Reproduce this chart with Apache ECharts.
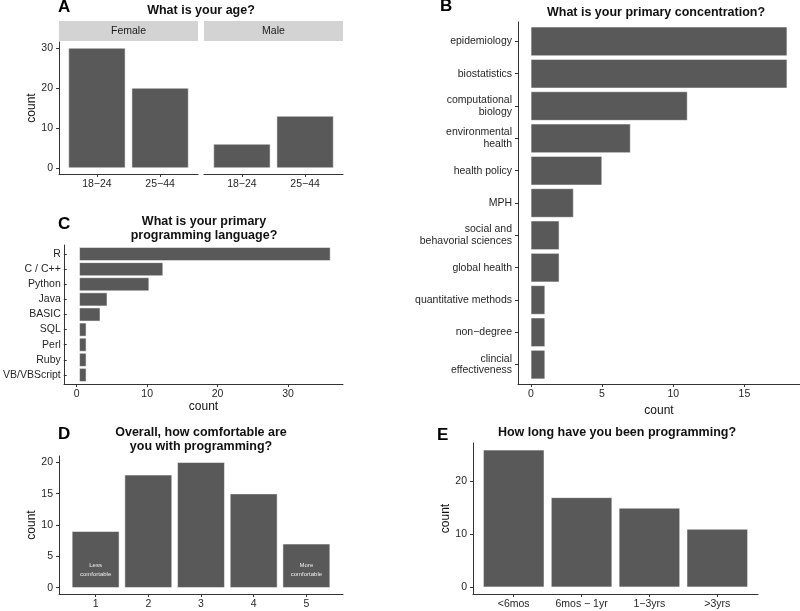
<!DOCTYPE html>
<html><head><meta charset="utf-8">
<script src="https://cdn.jsdelivr.net/npm/echarts@6/dist/echarts.min.js"></script>
<style>html,body{margin:0;padding:0;background:#fff}#c{width:800px;height:611px}</style>
</head><body><div id="c"></div>
<script>
// ---------- DATA ----------
const ageCategories = ['18−24', '25−44'];
const ageStrips = ['Female', 'Male'];
const ageFemale = [30, 20];
const ageMale = [6, 13];
const ageTicks = [0, 10, 20, 30];

const concCategories = ['epidemiology', 'biostatistics', 'computational\nbiology', 'environmental\nhealth',
  'health policy', 'MPH', 'social and\nbehavorial sciences', 'global health', 'quantitative methods',
  'non−degree', 'clincial\neffectiveness'];
const concValues = [18, 18, 11, 7, 5, 3, 2, 2, 1, 1, 1];
const concTicks = [0, 5, 10, 15];

const langCategories = ['R', 'C / C++', 'Python', 'Java', 'BASIC', 'SQL', 'Perl', 'Ruby', 'VB/VBScript'];
const langValues = [36, 12, 10, 4, 3, 1, 1, 1, 1];
const langTicks = [0, 10, 20, 30];

const comfortLevels = [1, 2, 3, 4, 5];
const comfortValues = [9, 18, 20, 15, 7];
const comfortNotes = ['Less\ncomfortable', '', '', '', 'More\ncomfortable'];
const comfortTicks = [0, 5, 10, 15, 20];

const durationCategories = ['<6mos', '6mos − 1yr', '1−3yrs', '>3yrs'];
const durationValues = [26, 17, 15, 11];
const durationTicks = [0, 10, 20];

// ---------- STYLE ----------
const FONT = '"Liberation Sans", Arial, Helvetica, sans-serif';
const INK = '#262626';
const LINE = '#333333';
const BAR = '#595959';
const FS = 10.5;

const grid = [], xAxis = [], yAxis = [], series = [], title = [], graphic = [];

const nameStyle = { color: '#111', fontSize: 12, fontFamily: FONT };
const lineStyle = { color: LINE, width: 1 };

function vertical(p) {
  const gi = grid.length;
  grid.push({ left: p.left, top: p.top, width: p.width, height: p.height });
  xAxis.push({
    gridIndex: gi, type: 'value', min: p.xMin, max: p.xMax, splitLine: { show: false },
    axisLine: { show: true, onZero: false, lineStyle },
    axisTick: { show: true, customValues: p.xTicks, length: 3, lineStyle },
    axisLabel: { show: true, customValues: p.xTicks, formatter: p.xLabel, color: INK, fontSize: FS, fontFamily: FONT, margin: 5 }
  });
  const showY = p.showY !== false;
  yAxis.push({
    gridIndex: gi, type: 'value', min: p.yMin, max: p.yMax, splitLine: { show: false },
    name: p.yName || '', nameLocation: 'middle', nameGap: 20, nameTextStyle: nameStyle,
    axisLine: { show: showY, onZero: false, lineStyle },
    axisTick: { show: showY, customValues: p.yTicks, length: 3, lineStyle },
    axisLabel: { show: showY, customValues: p.yTicks, color: INK, fontSize: FS, fontFamily: FONT, margin: 6 }
  });
  const bw = 0.9 * p.width / (p.xMax - p.xMin);
  series.push({
    type: 'bar', xAxisIndex: gi, yAxisIndex: gi, data: p.data, barWidth: bw,
    itemStyle: { color: BAR, borderColor: '#ffffff', borderWidth: 0.5 }, animation: false, silent: true
  });
}

function horizontal(p) {
  const gf = grid.length;
  grid.push({ left: p.left, top: p.top, width: p.width, height: p.height });
  xAxis.push({
    gridIndex: gf, type: 'value', min: p.xMin, max: p.xMax, splitLine: { show: false },
    name: 'count', nameLocation: 'middle', nameGap: 17, nameTextStyle: nameStyle,
    axisLine: { show: true, onZero: false, lineStyle },
    axisTick: { show: true, customValues: p.xTicks, length: 3, lineStyle },
    axisLabel: { show: true, customValues: p.xTicks, color: INK, fontSize: FS, fontFamily: FONT, margin: 5 }
  });
  yAxis.push({
    gridIndex: gf, type: 'value', min: 0, max: 1, splitLine: { show: false },
    axisLine: { show: true, onZero: false, lineStyle }, axisTick: { show: false }, axisLabel: { show: false }
  });
  const n = p.cats.length;
  const band = p.height / (n + 0.2);
  const gi = grid.length;
  grid.push({ left: p.left, top: p.top + 0.1 * band, width: p.width, height: n * band });
  xAxis.push({ gridIndex: gi, type: 'value', min: p.xMin, max: p.xMax, show: false });
  yAxis.push({
    gridIndex: gi, type: 'category', data: p.cats, inverse: true,
    axisLine: { show: false, onZero: false },
    axisTick: { show: true, alignWithLabel: true, length: 3, lineStyle },
    axisLabel: { interval: 0, color: INK, fontSize: FS, fontFamily: FONT, lineHeight: 11.5, margin: 6 }
  });
  series.push({
    type: 'bar', xAxisIndex: gi, yAxisIndex: gi, data: p.values, barWidth: '90%',
    itemStyle: { color: BAR, borderColor: '#ffffff', borderWidth: 0.5 }, animation: false, silent: true
  });
}

// Panel A (faceted)
const ageX = ageCategories.map((c, i) => i + 1);
const ageLabel = v => ageCategories[Math.round(v) - 1] || '';
vertical({ left: 59, top: 42, width: 139, height: 132, xMin: 0.4, xMax: 2.6, xTicks: ageX, xLabel: ageLabel,
  yMin: -1.5, yMax: 31.5, yTicks: ageTicks, yName: 'count',
  data: ageFemale.map((v, i) => [ageX[i], v]) });
vertical({ left: 204, top: 42, width: 139, height: 132, xMin: 0.4, xMax: 2.6, xTicks: ageX, xLabel: ageLabel,
  yMin: -1.5, yMax: 31.5, yTicks: ageTicks, showY: false,
  data: ageMale.map((v, i) => [ageX[i], v]) });

// Panel B
horizontal({ left: 518, top: 22, width: 282, height: 362, xMin: -0.9, xMax: 18.9, xTicks: concTicks,
  cats: concCategories, values: concValues });

// Panel C
horizontal({ left: 64, top: 245, width: 279, height: 139, xMin: -1.8, xMax: 37.8, xTicks: langTicks,
  cats: langCategories, values: langValues });

// Panel D
vertical({ left: 59, top: 456, width: 284, height: 138, xMin: 0.305, xMax: 5.695, xTicks: comfortLevels,
  xLabel: v => String(Math.round(v)), yMin: -1, yMax: 21, yTicks: comfortTicks, yName: 'count',
  data: comfortValues.map((v, i) => ({
    value: [comfortLevels[i], v],
    label: comfortNotes[i] ? { show: true, position: 'insideBottom', distance: 9, formatter: comfortNotes[i],
      fontSize: 6, lineHeight: 9, color: '#eeeeee', fontFamily: FONT } : { show: false }
  })) });

// Panel E
const durX = durationCategories.map((c, i) => i + 1);
vertical({ left: 473, top: 443, width: 285, height: 151, xMin: 0.4, xMax: durationCategories.length + 0.6,
  xTicks: durX, xLabel: v => durationCategories[Math.round(v) - 1] || '',
  yMin: -1.3, yMax: 27.3, yTicks: durationTicks, yName: 'count',
  data: durationValues.map((v, i) => [durX[i], v]) });

// Titles
const tStyle = { fontSize: 12.5, fontWeight: 'bold', color: '#111', fontFamily: FONT, lineHeight: 14 };
title.push({ text: 'What is your age?', left: 201, top: 4, textAlign: 'center', padding: 0, textStyle: tStyle });
title.push({ text: 'What is your primary concentration?', left: 656, top: 6, textAlign: 'center', padding: 0, textStyle: tStyle });
title.push({ text: 'What is your primary\nprogramming language?', left: 204, top: 215, textAlign: 'center', padding: 0, textStyle: tStyle });
title.push({ text: 'Overall, how comfortable are\nyou with programming?', left: 201, top: 425.5, textAlign: 'center', padding: 0, textStyle: tStyle });
title.push({ text: 'How long have you been programming?', left: 617, top: 425.5, textAlign: 'center', padding: 0, textStyle: tStyle });

// Facet strips and panel letters
ageStrips.forEach((s, i) => {
  const x = i === 0 ? 59 : 204;
  graphic.push({ type: 'rect', left: x, top: 21, shape: { width: 139, height: 20 }, style: { fill: '#d3d3d3' }, silent: true });
  graphic.push({ type: 'text', x: x + 69.5, y: 31, style: { text: s, fill: '#1a1a1a', font: '10.5px ' + FONT, textAlign: 'center', textVerticalAlign: 'middle' }, silent: true });
});
[['A', 58, 7], ['B', 440, 6], ['C', 58, 224], ['D', 58, 434], ['E', 437, 435]].forEach(([t, x, y]) => {
  graphic.push({ type: 'text', x, y, style: { text: t, fill: '#000', font: 'bold 17px ' + FONT, textVerticalAlign: 'middle' }, silent: true });
});

const chart = echarts.init(document.getElementById('c'));
chart.setOption({ animation: false, backgroundColor: '#fff', title, grid, xAxis, yAxis, series, graphic });
</script>
</body></html>
